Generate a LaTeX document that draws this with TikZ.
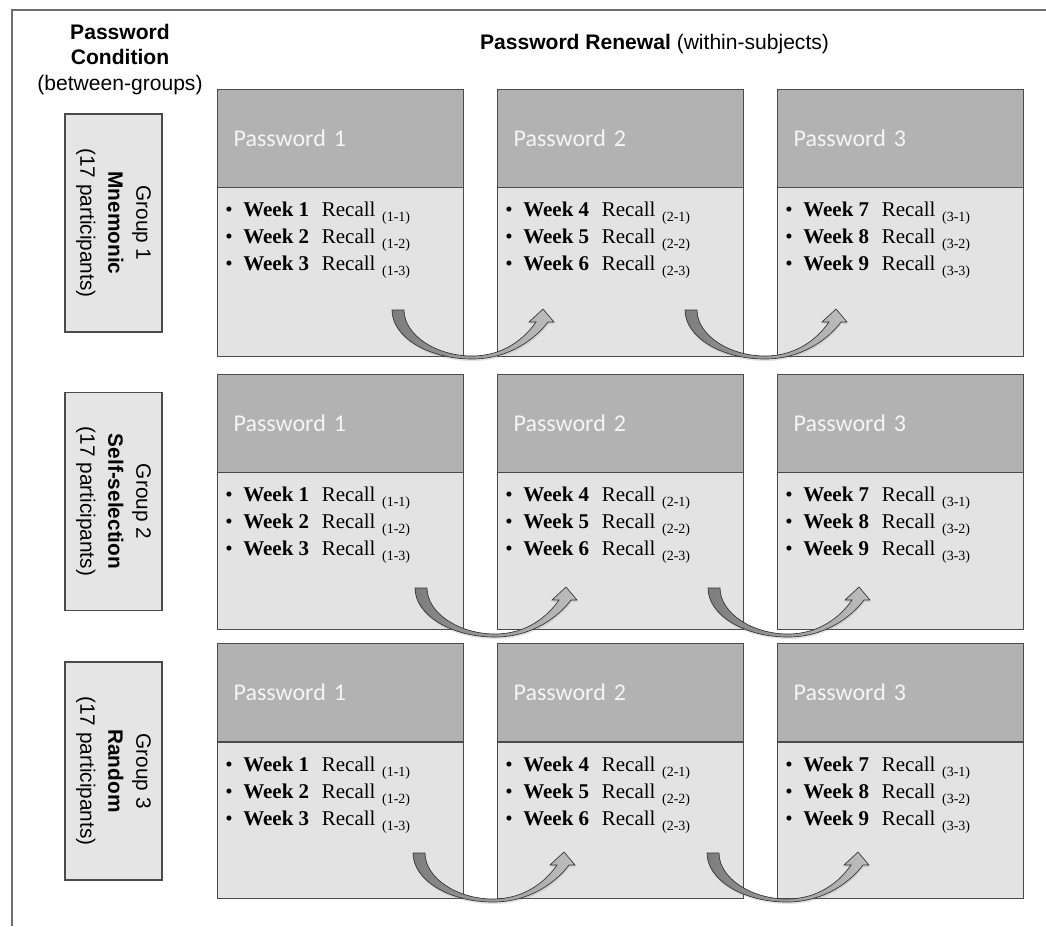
\documentclass[tikz,border=0pt]{standalone}
\usepackage{fontspec}
\setmainfont{Liberation Serif}
\newfontfamily\arialf{Liberation Sans}
\newfontfamily\calibf{Carlito}
\usetikzlibrary{shadows}
\definecolor{hdrgray}{RGB}{178,178,178}
\definecolor{bodygray}{RGB}{227,227,227}
\definecolor{grpgray}{RGB}{229,229,229}
\definecolor{edgegray}{RGB}{75,75,75}
\definecolor{framegray}{RGB}{110,110,110}
\definecolor{arrdark}{RGB}{125,125,125}
\definecolor{arrlight}{RGB}{190,190,190}
\definecolor{pwwhite}{RGB}{245,245,245}
\tikzset{
  hdrbox/.style={draw=edgegray, line width=0.9pt, fill=hdrgray, rectangle, anchor=north west,
    minimum width=184.5pt, minimum height=73.5pt, inner xsep=12pt, inner ysep=0pt, text width=160.5pt,
    align=left, font=\calibf\fontsize{18}{20}\selectfont, text=pwwhite},
  bodybox/.style={draw=edgegray, line width=0.9pt, fill=bodygray, rectangle, anchor=north west,
    minimum width=184.5pt, inner sep=0pt},
  grpbox/.style={draw=edgegray, line width=0.9pt, fill=grpgray, rectangle, rotate=-90,
    minimum width=163.5pt, minimum height=72.75pt, inner sep=0pt, align=center,
    font=\arialf\fontsize{15.6}{21}\selectfont},
  wkline/.style={anchor=base west, inner sep=0pt, font=\fontsize{15.75}{18}\selectfont},
  headtxt/.style={inner sep=0pt, align=center, font=\arialf\fontsize{15.8}{19}\selectfont},
  blockarrow/.style={draw=black!80, line width=0.5pt, left color=arrdark, right color=arrlight,
    drop shadow={opacity=0.22, shadow xshift=0.5pt, shadow yshift=-1.5pt}},
  framestyle/.style={draw=framegray, line width=0.8pt}
}
\newcommand\curvarr[2]{%
  \begin{scope}[shift={(#1,#2)}]
    \path[blockarrow]
      (0,0) .. controls (0,27) and (36,49) .. (80,49)
      .. controls (118,49) and (144,28) .. (156,12)
      -- (162,12) -- (151,-1) -- (137,12) -- (144,12)
      .. controls (133,28) and (112,46) .. (80,46)
      .. controls (44,46) and (12,25) .. (12,0) -- cycle;
  \end{scope}}
\begin{document}
\begin{tikzpicture}[x=0.75pt, y=-0.75pt]
\useasboundingbox (0,0) rectangle (1046,926);
% frame
\coordinate (fbl) at (12,926);
\coordinate (ftl) at (12,10);
\coordinate (ftr) at (1046,10);
\draw[framestyle] (fbl) -- (ftl) -- (ftr);
% headings
\node[headtxt, anchor=north] (cond) at (120,24) {\textbf{Password}\\\textbf{Condition}\\(between-groups)};
\node[headtxt, anchor=base] (renew) at (654.5,49) {\textbf{Password Renewal} (within-subjects)};
% group boxes
\node[grpbox] (g1) at (113.5,223) {Group 1\\\textbf{Mnemonic}\\(17 participants)};
\node[grpbox] (g2) at (113.5,501.5) {Group 2\\\textbf{Self-selection}\\(17 participants)};
\node[grpbox] (g3) at (113.5,771) {Group 3\\\textbf{Random}\\(17 participants)};
% password boxes
\foreach \r/\ty/\hy/\bh in {1/89/187/126.75, 2/374/472/117.75, 3/643/742/117}{
  \foreach \c/\cx in {1/217, 2/497, 3/777}{
    \node[bodybox, minimum height=\bh pt] (b\r\c) at (\cx,\hy) {};
    \node[hdrbox] (h\r\c) at (\cx,\ty) {Password \c};
    \foreach \l in {1,2,3}{
      \pgfmathtruncatemacro\wk{3*(\c-1)+\l}
      \node[wkline] (w\r\c\l) at ({\cx+8},{\hy+29.5+27*(\l-1)})
        {\makebox[13.5pt][l]{\textbullet}\textbf{Week \wk}\hspace{9.5pt}Recall\hspace{5pt}\raisebox{-4pt}{\fontsize{10.5}{12}\selectfont(\c-\l)}};
    }
  }
}
% curved arrows
\curvarr{392}{310}
\curvarr{685}{310}
\curvarr{415}{588}
\curvarr{708}{588}
\curvarr{413}{853}
\curvarr{707}{853}
\end{tikzpicture}
\end{document}
